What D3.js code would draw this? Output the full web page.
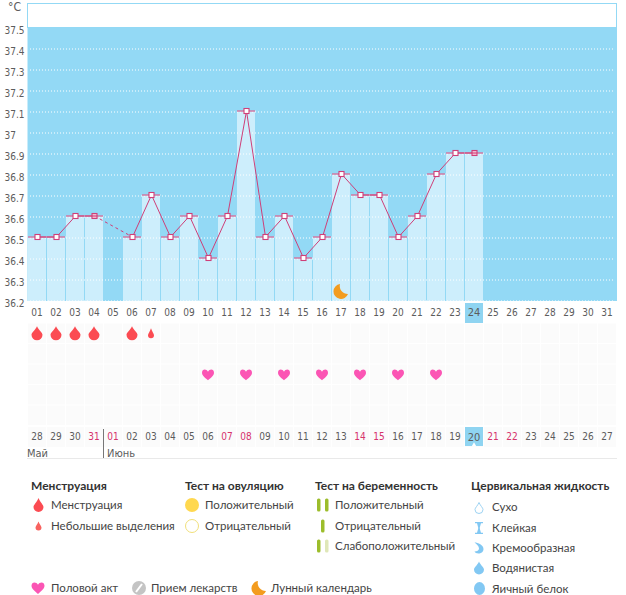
<!DOCTYPE html>
<html>
<head>
<meta charset="utf-8">
<script src="https://cdn.jsdelivr.net/npm/d3@7"></script>
<style>
  html, body { margin: 0; padding: 0; background: #fff; }
  svg { display: block; }
  text { font-family: "DejaVu Sans Condensed", "DejaVu Sans", sans-serif; }
  .legend text { font-family: Lato, Roboto, sans-serif; }
</style>
</head>
<body>
<svg id="chart" width="626" height="595"></svg>
<script>
const days = ["01","02","03","04","05","06","07","08","09","10","11","12","13","14","15","16","17","18","19","20","21","22","23","24","25","26","27","28","29","30","31"];
const cycleDays = ["28","29","30","31","01","02","03","04","05","06","07","08","09","10","11","12","13","14","15","16","17","18","19","20","21","22","23","24","25","26","27"];
const temps = [36.5,36.5,36.6,36.6,null,36.5,36.7,36.5,36.6,36.4,36.6,37.1,36.5,36.6,36.4,36.5,36.8,36.7,36.7,36.5,36.6,36.8,36.9,36.9,null,null,null,null,null,null,null];
const yTicks = [37.5,37.4,37.3,37.2,37.1,37,36.9,36.8,36.7,36.6,36.5,36.4,36.3,36.2];
const weekendIdx = [3,4,10,11,17,18,24,25];
const todayIdx = 23;
const heavyFlow = ["01","02","03","04","06"];
const lightFlow = ["07"];
const intercourse = ["10","12","14","16","18","20","22"];
const moonDays = ["17"];
const rows = ["flow","spare1","acts","spare2","spare3"];

const svg = d3.select("#chart");
const blue = "#93d9f5", barFill = "#cdeefc", crimson = "#cf3f78", textCol = "#5c5c5c";

const x = d3.scaleBand().domain(days).range([28, 617]);
const xCycle = d3.scaleBand().domain(cycleDays.map((d, i) => i)).range([28, 617]);
const y = d3.scaleLinear().domain([36.2, 37.5]).range([300.5, 27.5]);
const rowY = d3.scaleBand().domain(rows).range([323.5, 426]);

// teardrop with point on top, centred on 0,0
const dropPath = (w, h) => {
  const r = w / 2, t = -h / 2, c = h / 2 - r;
  return `M0 ${t} C${r * 0.35} ${t + h * 0.3} ${r} ${c - r * 0.4} ${r} ${c} A${r} ${r} 0 1 1 ${-r} ${c} C${-r} ${c - r * 0.4} ${-r * 0.35} ${t + h * 0.3} 0 ${t} Z`;
};
const heartPath = (s) => {
  const k = s / 12;
  return `M0 ${5.6 * k} C${-2 * k} ${3.6 * k} ${-6 * k} ${1.2 * k} ${-6 * k} ${-2 * k} C${-6 * k} ${-6 * k} ${-1.5 * k} ${-6 * k} 0 ${-3 * k} C${1.5 * k} ${-6 * k} ${6 * k} ${-6 * k} ${6 * k} ${-2 * k} C${6 * k} ${1.2 * k} ${2 * k} ${3.6 * k} 0 ${5.6 * k} Z`;
};
// crescent, horns at top and right
const moonPath = (s) => {
  const k = s / 15;
  return `M${-1 * k} ${-7 * k} A${7.5 * k} ${7.5 * k} 0 1 0 ${7 * k} ${3 * k} A${8 * k} ${8 * k} 0 0 1 ${-1 * k} ${-7 * k} Z`;
};

// plot frame and background
svg.append("rect").attr("x", 27.5).attr("y", 3.5).attr("width", 589).attr("height", 24)
  .attr("fill", "#fff").attr("stroke", blue);
svg.append("rect").attr("x", 27.5).attr("y", 27).attr("width", 589.5).attr("height", 274).attr("fill", blue);

// temperature bars
const bars = temps.map((t, i) => ({ t, day: days[i], next: temps[i + 1] })).filter(d => d.t != null);
svg.append("g").selectAll("rect").data(bars).join("rect")
  .attr("x", d => x(d.day)).attr("y", d => y(d.t) - 1)
  .attr("width", x.bandwidth()).attr("height", d => 301 - y(d.t) + 1)
  .attr("fill", barFill);
svg.append("g").selectAll("line").data(bars).join("line")
  .attr("x1", d => x(d.day) + x.bandwidth() - 0.5).attr("x2", d => x(d.day) + x.bandwidth() - 0.5)
  .attr("y1", d => y(d.t)).attr("y2", 301)
  .attr("stroke", blue);

// dotted grid, also over the bars
svg.append("g").selectAll("line").data(yTicks.filter(v => v !== 37.5)).join("line")
  .attr("x1", 30).attr("x2", 615)
  .attr("y1", d => y(d) + 0.5).attr("y2", d => y(d) + 0.5)
  .attr("stroke", "#fff").attr("stroke-dasharray", "1,2");

// y axis
const yAxis = svg.append("g").attr("transform", "translate(4.5,2.5)")
  .call(d3.axisLeft(y).tickValues(yTicks).tickFormat(String).tickSize(0));
yAxis.select(".domain").remove();
yAxis.selectAll("text").attr("x", 0).attr("text-anchor", "start")
  .attr("fill", textCol).attr("font-size", 10);
svg.append("text").attr("x", 8).attr("y", 11).attr("fill", textCol).attr("font-size", 12).text("°C");

// bar caps
const drawCaps = (data) => svg.append("g").selectAll("line").data(data).join("line")
  .attr("x1", d => x(d.day)).attr("x2", d => x(d.day) + x.bandwidth() - 1)
  .attr("y1", d => y(d.t) - 0.5).attr("y2", d => y(d.t) - 0.5)
  .attr("stroke", crimson);
drawCaps(bars.filter(d => d.next != null));

// temperature line, dashed across missing days
const pts = temps.map((t, i) => ({ t, day: days[i] }));
const line = d3.line().defined(d => d.t != null)
  .x(d => x(d.day) + x.bandwidth() / 2).y(d => y(d.t) - 0.5);
const dashPairs = [];
bars.forEach((d, i) => {
  const n = bars[i + 1];
  if (n && d.next == null) dashPairs.push([d, n]);
});
svg.append("path").attr("d", line(pts)).attr("fill", "none").attr("stroke", crimson);
svg.append("g").selectAll("path").data(dashPairs).join("path")
  .attr("d", line).attr("fill", "none").attr("stroke", crimson).attr("stroke-dasharray", "3,3");

// markers
svg.append("g").selectAll("rect").data(bars).join("rect")
  .attr("x", d => x(d.day) + x.bandwidth() / 2 - 2.5).attr("y", d => y(d.t) - 3)
  .attr("width", 5).attr("height", 5)
  .attr("fill", d => d.next == null ? "#f3bdd2" : "#fff")
  .attr("stroke", crimson).attr("stroke-width", 1.1);
drawCaps(bars.filter(d => d.next == null));

// moon inside the plot
svg.append("g").selectAll("path").data(moonDays).join("path")
  .attr("d", moonPath(15))
  .attr("transform", d => `translate(${x(d) + x.bandwidth() / 2 - 0.5},291)`)
  .attr("fill", "#f39c1f");

// event grid
const cells = rows.concat("labels").flatMap((r) => days.map(d => ({ r, d })));
svg.append("g").selectAll("rect").data(cells).join("rect")
  .attr("x", d => x(d.d)).attr("width", x.bandwidth() - 1)
  .attr("y", d => d.r === "labels" ? 427 : rowY(d.r))
  .attr("height", d => d.r === "labels" ? 20 : rowY.bandwidth() - 1)
  .attr("fill", "#fbfbfb");

// highlighted current day
svg.append("rect").attr("x", x(days[todayIdx])).attr("y", 303).attr("width", x.bandwidth() - 1).attr("height", 20).attr("fill", "#8fd4f1");
svg.append("rect").attr("x", xCycle(todayIdx)).attr("y", 427).attr("width", xCycle.bandwidth() - 1).attr("height", 19).attr("fill", "#8fd4f1");
svg.append("path").attr("d", d3.symbol(d3.symbolTriangle, 10)())
  .attr("transform", `translate(${xCycle(todayIdx) + 9},445)`).attr("fill", "#fff");

// date axes
const topAxis = svg.append("g").attr("transform", "translate(-0.5,304.5)")
  .call(d3.axisBottom(x).tickSize(0));
topAxis.select(".domain").remove();
topAxis.selectAll("text").attr("y", 4).attr("fill", textCol).attr("font-size", 10)
  .filter(d => d === days[todayIdx]).attr("font-size", 11);

const bottomAxis = svg.append("g").attr("transform", "translate(-0.5,429)")
  .call(d3.axisBottom(xCycle).tickSize(0).tickFormat(i => cycleDays[i]));
bottomAxis.select(".domain").remove();
bottomAxis.selectAll("text").attr("y", 4).attr("font-size", 10)
  .attr("fill", i => weekendIdx.includes(i) ? "#d6336c" : textCol)
  .filter(i => i === todayIdx).attr("font-size", 11);

// month labels
svg.append("line").attr("x1", 103.5).attr("x2", 103.5).attr("y1", 429).attr("y2", 458).attr("stroke", "#777");
svg.append("text").attr("x", 27).attr("y", 457).attr("fill", textCol).attr("font-size", 11).text("Май");
svg.append("text").attr("x", 107).attr("y", 457).attr("fill", textCol).attr("font-size", 11).text("Июнь");
svg.append("line").attr("x1", 27).attr("x2", 617).attr("y1", 458.5).attr("y2", 458.5).attr("stroke", "#e9e9e9");

// event marks
const rowMid = (r) => rowY(r) + rowY.bandwidth() / 2 - 0.5;
const marks = (data, path, fill, row, dy) => svg.append("g").selectAll("path").data(data).join("path")
  .attr("d", path)
  .attr("transform", d => `translate(${x(d) + x.bandwidth() / 2 - 0.5},${rowMid(row) + dy})`)
  .attr("fill", fill);
marks(heavyFlow, dropPath(11, 14), "#fb4b52", "flow", 0);
marks(lightFlow, dropPath(6, 10), "#fb4b52", "flow", 0);
marks(intercourse, heartPath(12), "#fb55b4", "acts", 0.5);

// legend
const legend = svg.append("g").attr("class", "legend");
const title = (t, px, py) => legend.append("text").attr("x", px).attr("y", py)
  .attr("font-size", 12).attr("font-weight", 700).attr("fill", "#333").text(t);
const item = (t, px, py) => legend.append("text").attr("x", px).attr("y", py + 4)
  .attr("font-size", 11.5).attr("fill", "#444").text(t);
const icon = (d, px, py, fill) => legend.append("path").attr("d", d)
  .attr("transform", `translate(${px},${py})`).attr("fill", fill);

title("Менструация", 31, 490);
icon(dropPath(10, 14), 38.5, 505, "#fb4b52");
item("Менструация", 51, 505);
icon(dropPath(6, 9), 38.5, 526, "#f8625f");
item("Небольшие выделения", 51, 526);

title("Тест на овуляцию", 185, 490);
legend.append("circle").attr("cx", 192).attr("cy", 505).attr("r", 7).attr("fill", "#ffd84f");
legend.append("circle").attr("cx", 192).attr("cy", 526).attr("r", 6.5).attr("fill", "#fff").attr("stroke", "#f1e07a");
item("Положительный", 205, 505);
item("Отрицательный", 205, 526);

title("Тест на беременность", 315, 490);
const stick = (px, py, fill) => legend.append("rect").attr("x", px).attr("y", py - 6.5)
  .attr("width", 3.5).attr("height", 13).attr("rx", 1.5).attr("fill", fill);
stick(317, 505, "#9cbd2b"); stick(325, 505, "#9cbd2b");
stick(321, 526, "#9cbd2b");
stick(317, 546, "#9cbd2b"); stick(325, 546, "#dfe7b8");
item("Положительный", 335, 505);
item("Отрицательный", 335, 526);
item("Слабоположительный", 335, 546);

title("Цервикальная жидкость", 471, 490);
const fluid = "#82c8f3";
legend.append("path").attr("d", dropPath(8, 11)).attr("transform", "translate(479,508)")
  .attr("fill", "#fff").attr("stroke", "#9dd3f3");
legend.append("path").attr("d", "M-4 -6H4V-4.8H2C1.4 -2.5 .8 -1 .8 0S1.4 2.5 2 4.8H4V6H-4V4.8H-2C-1.4 2.5 -.8 1 -.8 0S-1.4 -2.5 -2 -4.8H-4Z")
  .attr("transform", "translate(479,528)").attr("fill", fluid);
legend.append("path").attr("d", "M-4.5 -5.5C-1 -5.5 4.5 -3 4.5 1C4.5 4 2 5.5 -.5 5.5C-2.5 5.5 -4 4.5 -4.5 3.5C-2 3.5 0 2.5 0 0.5C0 -2 -2.5 -4 -4.5 -5.5Z")
  .attr("transform", "translate(479,548)").attr("fill", fluid);
icon(dropPath(10, 13), 479, 568, fluid);
legend.append("ellipse").attr("cx", 479.5).attr("cy", 588.5).attr("rx", 5.5).attr("ry", 6.5).attr("fill", fluid);
item("Сухо", 492, 507);
item("Клейкая", 492, 528);
item("Кремообразная", 492, 548);
item("Водянистая", 492, 568);
item("Яичный белок", 492, 589);

icon(heartPath(13), 38, 588, "#fb55b4");
item("Половой акт", 51, 588);
legend.append("circle").attr("cx", 139).attr("cy", 588).attr("r", 7).attr("fill", "#c4c4c4");
legend.append("line").attr("x1", 136).attr("y1", 592).attr("x2", 142).attr("y2", 584).attr("stroke", "#fff").attr("stroke-width", 2);
item("Прием лекарств", 151, 588);
icon(moonPath(15), 259, 588, "#f39c1f");
item("Лунный календарь", 271, 588);
</script>
</body>
</html>
